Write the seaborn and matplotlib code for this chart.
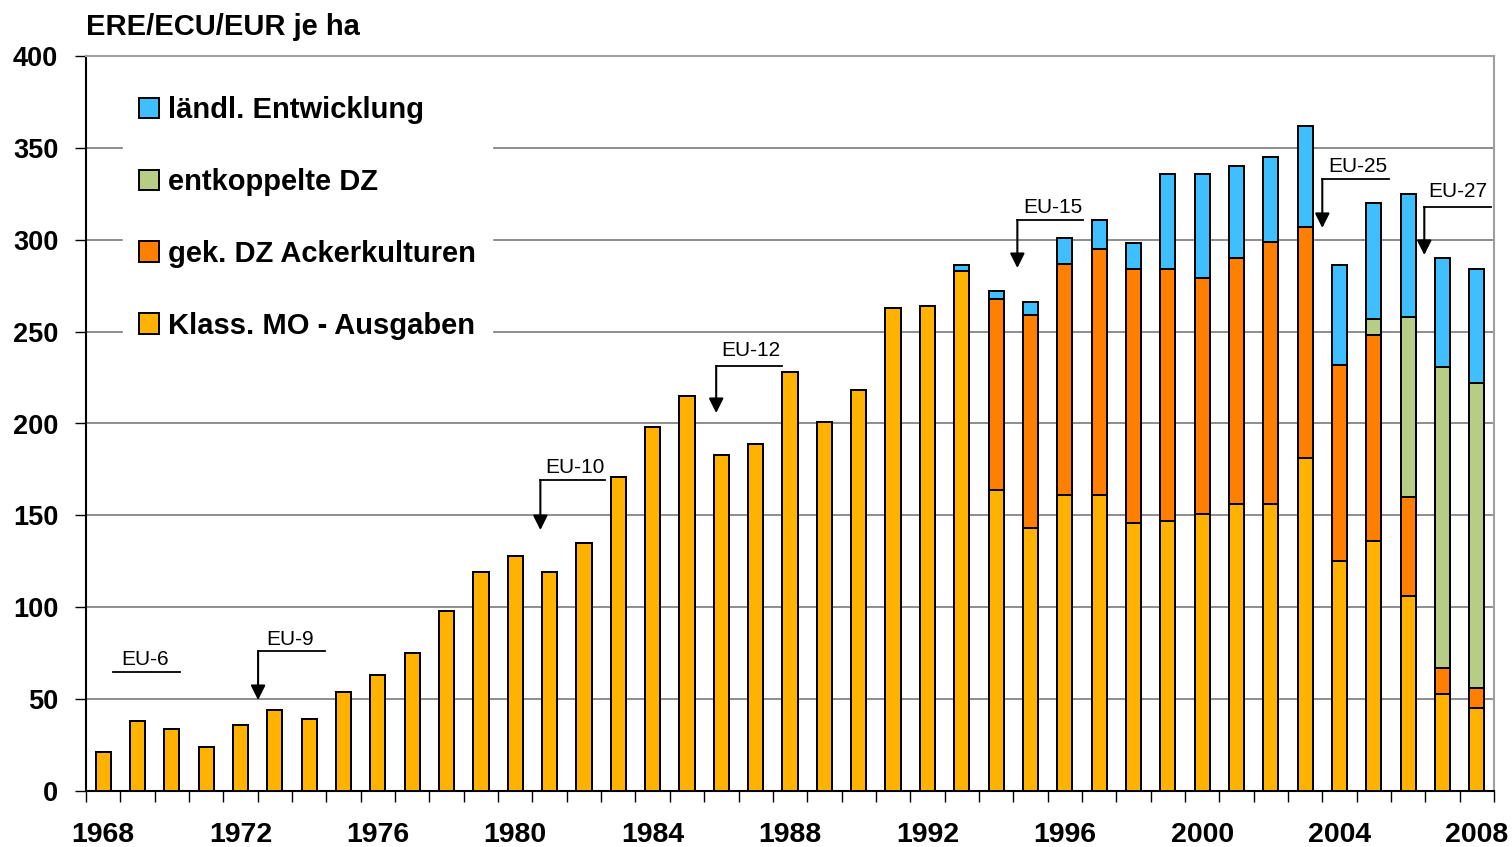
import pandas as pd
import seaborn as sns
import matplotlib.pyplot as plt
from matplotlib.patches import Patch

# Data
years = list(range(1968, 2009))
klass_mo = [21, 38, 34, 24, 36, 44, 39, 54, 63, 75,
            98, 119, 128, 119, 135, 171, 198, 215, 183, 189,
            228, 201, 218, 263, 264, 283,
            164, 143, 161, 161, 146, 147, 151, 156, 156, 181, 125, 136, 106, 53, 45]
gek_dz = [0] * 26 + [104, 116, 126, 134, 138, 137, 128, 134, 143, 126, 107, 112, 54, 14, 11]
entk_dz = [0] * 37 + [9, 98, 164, 166]
laendl = [0] * 25 + [3, 4, 7, 14, 16, 14, 52, 57, 50, 46, 55, 54, 63, 67, 59, 62]

series_names = ['Klass. MO - Ausgaben', 'gek. DZ Ackerkulturen', 'entkoppelte DZ', 'ländl. Entwicklung']
colors = ['#FFB300', '#FF8000', '#B7CC85', '#40BFFF']
eu_labels = ['EU-6', 'EU-9', 'EU-10', 'EU-12', 'EU-15', 'EU-25', 'EU-27']

df = pd.DataFrame({'year': [str(y) for y in years],
                   series_names[0]: klass_mo,
                   series_names[1]: gek_dz,
                   series_names[2]: entk_dz,
                   series_names[3]: laendl})
cum = df[series_names].cumsum(axis=1)

plt.rcParams['font.family'] = ['Liberation Sans', 'DejaVu Sans']

fig = plt.figure(figsize=(15.12, 8.47), dpi=100)
ax = fig.add_axes([0.0569, 0.0661, 0.9312, 0.8678])

# stacked bars: draw the cumulative tops from the largest down
order = df['year'].tolist()
for name, col in reversed(list(zip(series_names, colors))):
    sns.barplot(x=df['year'], y=cum[name], order=order, color=col, saturation=1,
                width=0.44, edgecolor='black', linewidth=1.4, ax=ax, zorder=3)

ax.set_xlim(-0.5, 40.5)
ax.set_ylim(0, 400)
ax.set_yticks(range(0, 401, 50))
ax.yaxis.grid(True, color='#7a7a7a', linewidth=1.2, zorder=0)
ax.xaxis.grid(False)
ax.set_axisbelow(True)

ax.set_xticks(range(0, 41, 4))
ax.set_xticklabels([str(y) for y in years[::4]], fontsize=20.5, fontweight='bold')
ax.set_xticks([i + 0.5 for i in range(-1, 41)], minor=True)
ax.tick_params(axis='x', which='major', length=0, pad=22)
ax.tick_params(axis='x', which='minor', length=8, width=1, direction='out')
ax.tick_params(axis='y', length=8, width=1, labelsize=19.5, pad=12)
for lab in ax.get_yticklabels():
    lab.set_fontweight('bold')
ax.set_xlabel('')
ax.set_ylabel('')

for s in ['left', 'bottom']:
    ax.spines[s].set_color('black')
    ax.spines[s].set_linewidth(1.5)
for s in ['top', 'right']:
    ax.spines[s].set_color('#a0a0a0')
    ax.spines[s].set_linewidth(1.5)

fig.text(0.057, 0.968, 'ERE/ECU/EUR je ha', fontsize=21, fontweight='bold', va='center', ha='left')

# legend
handles = [Patch(facecolor=c, edgecolor='black', linewidth=1.4) for c in colors]
leg = ax.legend(handles[::-1], series_names[::-1], loc='upper left',
                bbox_to_anchor=(0.026, 0.967), borderaxespad=0, frameon=True,
                prop={'size': 21, 'weight': 'bold'}, handlelength=0.7, handleheight=0.7,
                handletextpad=0.3, labelspacing=1.5, borderpad=0.55, fancybox=False)
leg.get_frame().set_facecolor('white')
leg.get_frame().set_edgecolor('white')
leg.get_frame().set_alpha(1)

# enlargement annotations: (text x, text y, line x0, line x1, line y, arrow tip y or None)
notes = [(1.22, 71.8, 0.29, 2.24, 64.8, None),
         (5.45, 82.7, 4.51, 6.46, 76.2, 49.5),
         (13.74, 176.3, 12.73, 14.62, 169.3, 142.0),
         (18.87, 239.5, 17.85, 19.77, 231.3, 205.7),
         (27.64, 317.8, 26.62, 28.54, 310.7, 284.6),
         (36.52, 340.1, 35.5, 37.45, 333.0, 306.4),
         (39.44, 326.5, 38.47, 40.42, 317.8, 291.7)]
for lab, (tx, ty, x0, x1, ly, tip) in zip(eu_labels, notes):
    ax.text(tx, ty, lab, fontsize=15, ha='center', va='center', zorder=5)
    ax.plot([x0, x1], [ly, ly], color='black', linewidth=1.3, zorder=5)
    if tip is not None:
        ax.annotate('', xy=(x0, tip), xytext=(x0, ly),
                    arrowprops=dict(arrowstyle='-|>', color='black', lw=1.5,
                                    mutation_scale=22, shrinkA=0, shrinkB=0),
                    zorder=5)

plt.savefig('out.png', dpi=100)
